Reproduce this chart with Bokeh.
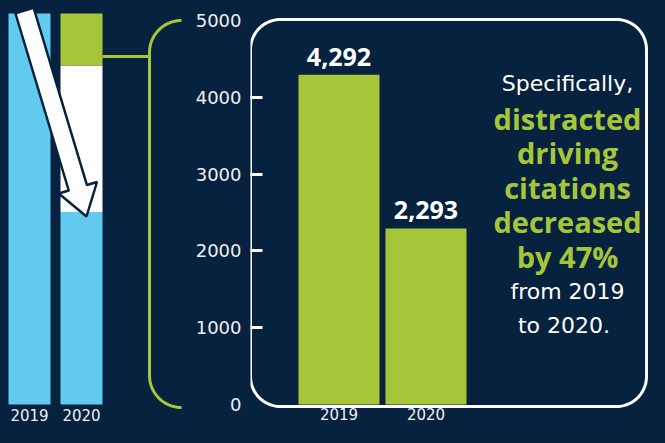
import numpy as np
from bokeh.plotting import figure
from bokeh.models import Range1d, FixedTicker, ColumnDataSource
from bokeh.layouts import row
from bokeh.embed import file_html
from bokeh.resources import INLINE
from bokeh.core.properties import value

NAVY = "#06223E"
GREEN = "#A6C63A"
BLUE = "#63CAEF"
WHITE = "#FFFFFF"
FONT = "DejaVu Sans"
BFONT = "Open Sans"

# ---- data ----
years = ["2019", "2020"]
citations = [4292, 2293]
y_ticks = [0, 1000, 2000, 3000, 4000, 5000]

mini_years = ["2019", "2020"]
mini_blue = [1.0, 0.492]
mini_white = [0.0, 0.375]
mini_green = [0.0, 0.133]

note_lines = ["Specifically,", "distracted", "driving", "citations",
              "decreased", "by 47%", "from 2019", " to 2020."]
note_bold = [False, True, True, True, True, True, False, False]

H = 427

def base(fig):
    fig.background_fill_color = NAVY
    fig.border_fill_color = NAVY
    fig.outline_line_color = None
    fig.grid.visible = False
    return fig

# ---------------- left mini chart + bracket ----------------
pa = figure(width=190, height=H, x_range=Range1d(-0.5577, 3.096),
            y_range=Range1d(-0.0588, 1.0332), output_backend="svg",
            toolbar_location=None, x_axis_location=None, y_axis_location=None,
            min_border=0, min_border_left=0, min_border_right=0,
            min_border_top=0, min_border_bottom=0)
base(pa)
pa.extra_x_ranges = {"px": Range1d(0, 190)}
pa.extra_y_ranges = {"px": Range1d(427, 0)}

msrc = ColumnDataSource(dict(x=np.arange(len(mini_years)), blue=mini_blue,
                             white=mini_white, green=mini_green))
pa.vbar_stack(["blue", "white", "green"], x="x", width=0.8077,
              color=[BLUE, WHITE, GREEN], line_color=None, source=msrc)
pa.text(x=np.arange(len(mini_years)), y=[0] * len(mini_years), text=mini_years,
        text_align="center", text_baseline="top", y_offset=4,
        text_font=value(FONT), text_font_size="15px", text_color="#EEF0F2")

# arrow (decoration)
S = np.array([24.0, 10.0]); T = np.array([86.0, 216.0])
u = (T - S) / np.linalg.norm(T - S)
n = np.array([u[1], -u[0]])
w, h, hl = 9.5, 20.0, 30.0
B = T - u * hl
pts = [S + n * w, B + n * w, B + n * h, T, B - n * h, B - n * w, S - n * w]
pa.patch([p[0] for p in pts], [p[1] for p in pts], fill_color=WHITE,
         line_color=NAVY, line_width=2.5, x_range_name="px", y_range_name="px")

# connector + bracket
pa.line([102, 149], [56, 56], line_color=GREEN, line_width=3,
        x_range_name="px", y_range_name="px")
r = 32; bx = 149; top = 20; bot = 407
t = np.linspace(0, np.pi / 2, 24)
cx = bx + r
xs = np.concatenate([cx - r * np.sin(t), cx - r * np.cos(t)])
ys = np.concatenate([(top + r) - r * np.cos(t), (bot - r) + r * np.sin(t)])
pa.line(xs, ys, line_color=GREEN, line_width=3, x_range_name="px", y_range_name="px")

# ---------------- main chart ----------------
pb = figure(width=459, height=H, x_range=Range1d(-1.0172, 3.569),
            y_range=Range1d(-299.5, 5260.4), output_backend="svg",
            toolbar_location=None, x_axis_location=None,
            min_border_left=60, min_border_right=0, min_border_top=0,
            min_border_bottom=0)
base(pb)
pb.extra_x_ranges = {"px": Range1d(250, 649)}
pb.extra_y_ranges = {"px": Range1d(427, 0)}

# rounded box (decoration)
L, R, Tp, Bt, rr = 250, 646, 19, 406, 30
a = np.linspace(0, np.pi / 2, 24)
tl_x = (L + rr) - rr * np.cos(a); tl_y = (Tp + rr) - rr * np.sin(a)
tr_x = (R - rr) + rr * np.sin(a); tr_y = (Tp + rr) - rr * np.cos(a)
br_x = (R - rr) + rr * np.cos(a); br_y = (Bt - rr) + rr * np.sin(a)
bl_x = (L + rr) - rr * np.sin(a); bl_y = (Bt - rr) + rr * np.cos(a)
box_x = np.concatenate([tl_x, tr_x, br_x, bl_x, tl_x[:1]])
box_y = np.concatenate([tl_y, tr_y, br_y, bl_y, tl_y[:1]])
pb.line(box_x, box_y, line_color=WHITE, line_width=3,
        x_range_name="px", y_range_name="px")

idx = np.arange(len(years))
pb.vbar(x=idx, top=citations, bottom=0, width=0.931, color=GREEN, line_color=None)
pb.text(x=idx, y=citations, text=[f"{v:,}" for v in citations],
        text_align="center", text_baseline="bottom", y_offset=-9,
        text_font=value(BFONT), text_font_style="bold", text_font_size="25px",
        text_color=WHITE)
pb.text(x=idx, y=[0] * len(years), text=years, text_align="center",
        text_baseline="top", y_offset=4, text_font=value(FONT),
        text_font_size="15px", text_color="#EEF0F2")

ax = pb.yaxis[0]
ax.ticker = FixedTicker(ticks=y_ticks, minor_ticks=y_ticks[1:-1])
ax.axis_line_color = None
ax.major_tick_line_color = None
ax.major_tick_out = 0
ax.major_tick_in = 0
ax.minor_tick_in = 12
ax.minor_tick_out = 0
ax.minor_tick_line_width = 3
ax.minor_tick_line_color = WHITE
ax.major_label_standoff = 9
ax.major_label_text_font = FONT
ax.major_label_text_font_size = "18px"
ax.major_label_text_color = "#EEF0F2"

# note text
ny = [83 + i * 34.6 for i in range(len(note_lines))]
for line, bold, yy in zip(note_lines, note_bold, ny):
    pb.text(x=[567], y=[yy], text=[line], text_align="center",
            text_baseline="middle",
            text_font=value(BFONT if bold else FONT),
            text_font_style="bold" if bold else "normal",
            text_font_size="29px" if bold else "22px",
            text_color=GREEN if bold else WHITE,
            x_range_name="px", y_range_name="px")

layout = row(pa, pb)
html = file_html(layout, INLINE)
html = html.replace("<head>", "<head><style>html,body{background:%s;}</style>" % NAVY, 1)
open("out.html", "w").write(html)
